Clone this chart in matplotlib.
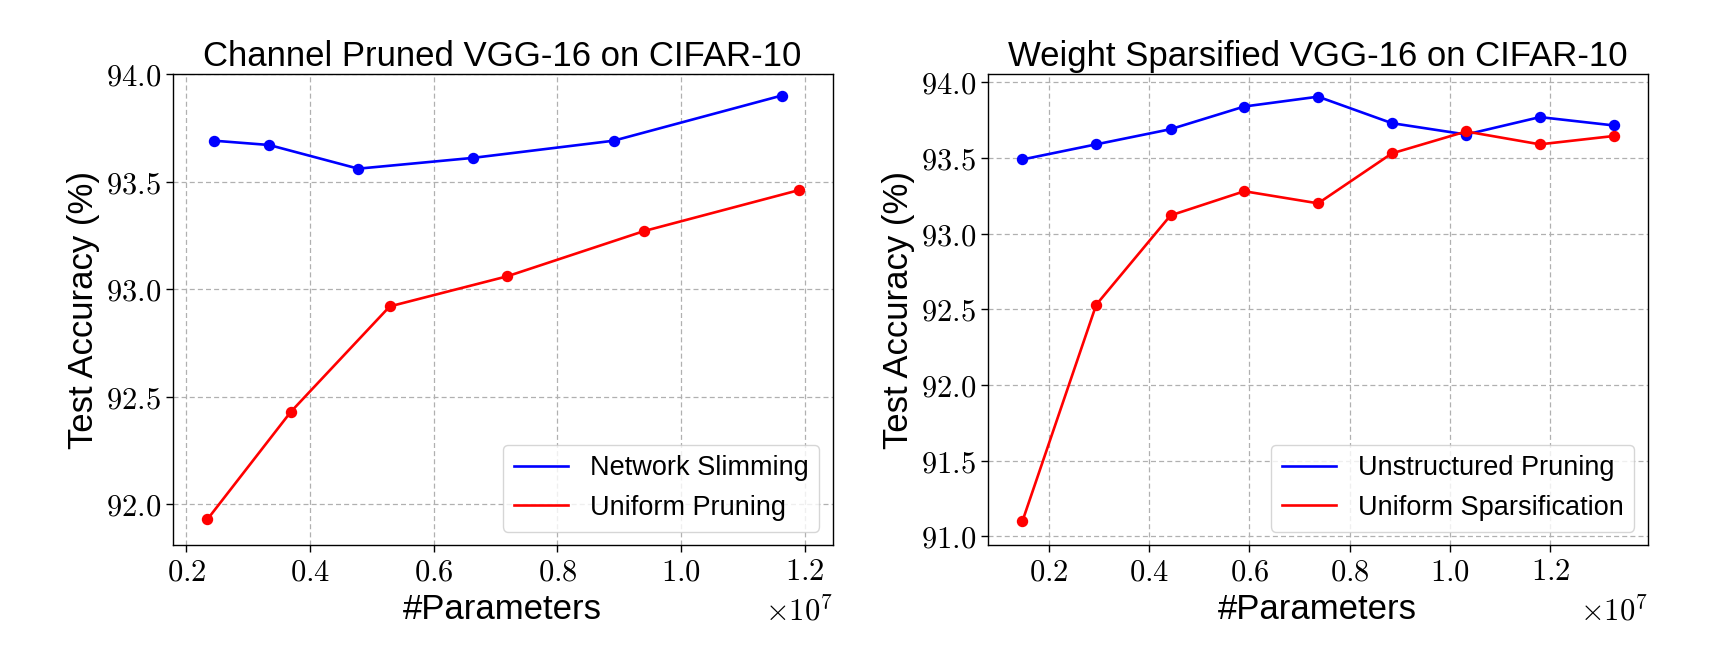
import numpy as np
import matplotlib
matplotlib.use("Agg")
import matplotlib.pyplot as plt
from matplotlib.ticker import MultipleLocator, FuncFormatter

plt.rcParams['font.family'] = ['Liberation Sans', 'DejaVu Sans']
plt.rcParams['mathtext.fontset'] = 'cm'

# left panel: channel pruning
ns_params = [2.45e6, 3.34e6, 4.78e6, 6.63e6, 8.91e6, 11.63e6]
ns_acc = [93.69, 93.67, 93.56, 93.61, 93.69, 93.90]
up_params = [2.34e6, 3.69e6, 5.29e6, 7.19e6, 9.40e6, 11.90e6]
up_acc = [91.93, 92.43, 92.92, 93.06, 93.27, 93.46]

# right panel: weight sparsification
ws_params = [1.48e6, 2.95e6, 4.43e6, 5.90e6, 7.37e6, 8.84e6, 10.32e6, 11.79e6, 13.26e6]
unstr_acc = [93.49, 93.59, 93.69, 93.84, 93.905, 93.73, 93.655, 93.77, 93.715]
unif_acc = [91.10, 92.53, 93.12, 93.28, 93.20, 93.53, 93.675, 93.59, 93.645]

fig = plt.figure(figsize=(17.3, 6.45), dpi=100)
ax1 = fig.add_axes([0.0998, 0.1546, 0.3815, 0.7307])
ax2 = fig.add_axes([0.5710, 0.1546, 0.3815, 0.7307])


def curve(ax, x, y, color, label):
    # line carries the legend entry, dots drawn on top without label
    ax.plot(x, y, '-', color=color, lw=1.9, label=label)
    ax.plot(x, y, 'o', color=color, ms=7.2)


def style(ax, title, xlim, ylim):
    ax.set_title(title, fontsize=25)
    ax.set_xlabel('#Parameters', fontsize=25)
    ax.set_ylabel('Test Accuracy (%)', fontsize=25)
    ax.set_xlim(*xlim)
    ax.set_ylim(*ylim)
    ax.xaxis.set_major_locator(MultipleLocator(2e6))
    ax.yaxis.set_major_locator(MultipleLocator(0.5))
    ax.xaxis.set_major_formatter(FuncFormatter(lambda v, p: '$%.1f$' % (v / 1e7)))
    ax.yaxis.set_major_formatter(FuncFormatter(lambda v, p: '$%.1f$' % v))
    ax.tick_params(labelsize=22, length=5, width=1)
    ax.grid(True, linestyle=(0, (4, 2.5)), color='#b0b0b0', linewidth=0.9)
    ax.set_axisbelow(True)
    for s in ax.spines.values():
        s.set_linewidth(1.0)
    ax.text(1.0, -0.108, r'$\times10^{7}$', transform=ax.transAxes,
            ha='right', va='top', fontsize=22)
    ax.legend(loc='lower right', fontsize=19.5)


curve(ax1, ns_params, ns_acc, '#0000ff', 'Network Slimming')
curve(ax1, up_params, up_acc, '#ff0000', 'Uniform Pruning')
style(ax1, 'Channel Pruned VGG-16 on CIFAR-10', (1.78e6, 12.45e6), (91.81, 94.0))

curve(ax2, ws_params, unstr_acc, '#0000ff', 'Unstructured Pruning')
curve(ax2, ws_params, unif_acc, '#ff0000', 'Uniform Sparsification')
style(ax2, 'Weight Sparsified VGG-16 on CIFAR-10', (0.79e6, 13.94e6), (90.94, 94.055))

fig.savefig('out.png', dpi=100)
